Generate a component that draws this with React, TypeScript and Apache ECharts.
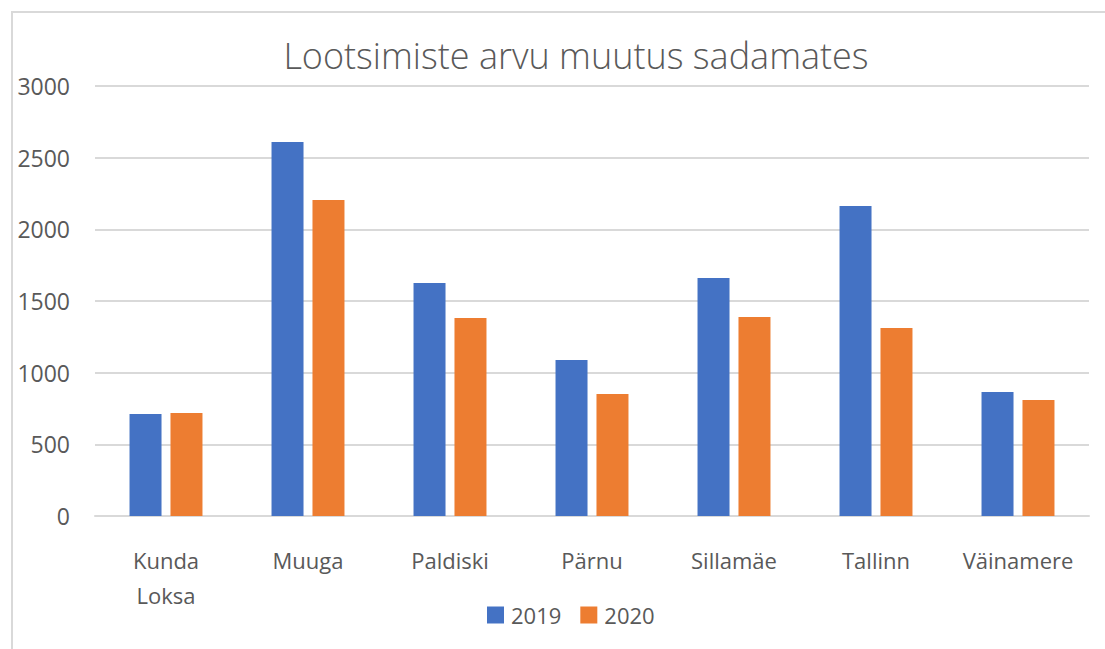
import React, { useEffect, useRef } from "react";
import * as echarts from "echarts";

const categories = ["Kunda\nLoksa", "Muuga", "Paldiski", "Pärnu", "Sillamäe", "Tallinn", "Väinamere"];
const series2019 = [712, 2610, 1625, 1088, 1660, 2163, 865];
const series2020 = [718, 2205, 1381, 851, 1388, 1312, 809];
const yTicks = [0, 500, 1000, 1500, 2000, 2500, 3000];
const titleText = "Lootsimiste arvu muutus sadamates";

const FONT = "'Open Sans', 'Noto Sans', sans-serif";
const GRAY = "#595959";

export default function App() {
  const ref = useRef<HTMLDivElement>(null);
  useEffect(() => {
    if (!ref.current) return;
    const chart = echarts.init(ref.current, undefined, { renderer: "svg" });
    chart.setOption({
      animation: false,
      backgroundColor: "#ffffff",
      textStyle: { fontFamily: FONT },
      title: {
        text: titleText,
        left: 571,
        textAlign: "center",
        top: 32,
        textStyle: { fontFamily: FONT, fontSize: 36, fontWeight: 300, color: GRAY },
      },
      graphic: [
        {
          type: "rect",
          shape: { x: 12, y: 12, width: 1120, height: 680 },
          style: { fill: "none", stroke: "#d9d9d9", lineWidth: 2 },
          silent: true,
          z: -1,
        },
      ],
      legend: {
        left: 487,
        top: 604,
        padding: 0,
        icon: "rect",
        itemWidth: 17,
        itemHeight: 17,
        itemGap: 19,
        textStyle: { fontFamily: FONT, fontSize: 22, color: GRAY, padding: [0, 0, 0, 2] },
        data: ["2019", "2020"],
      },
      grid: { left: 95, right: 16, top: 86, bottom: 133 },
      xAxis: {
        type: "category",
        data: categories,
        axisLine: { lineStyle: { color: "#d9d9d9", width: 2 } },
        axisTick: { show: false },
        axisLabel: {
          fontFamily: FONT,
          fontSize: 22,
          color: GRAY,
          margin: 26,
          lineHeight: 35,
          interval: 0,
        },
      },
      yAxis: {
        type: "value",
        min: yTicks[0],
        max: yTicks[yTicks.length - 1],
        interval: 500,
        axisLine: { show: false },
        axisTick: { show: false },
        splitLine: { lineStyle: { color: "#d9d9d9", width: 2 } },
        axisLabel: {
          fontFamily: FONT,
          fontSize: 23,
          color: GRAY,
          margin: 25,
          formatter: (v: number) => String(v),
        },
      },
      series: [
        {
          name: "2019",
          type: "bar",
          data: series2019,
          barWidth: 32,
          barGap: "28%",
          itemStyle: { color: "#4472C4" },
        },
        {
          name: "2020",
          type: "bar",
          data: series2020,
          barWidth: 32,
          itemStyle: { color: "#ED7D31" },
        },
      ],
    });
    return () => chart.dispose();
  }, []);
  return <div ref={ref} style={{ width: 1105, height: 649, position: "absolute", left: 0, top: 0 }} />;
}
